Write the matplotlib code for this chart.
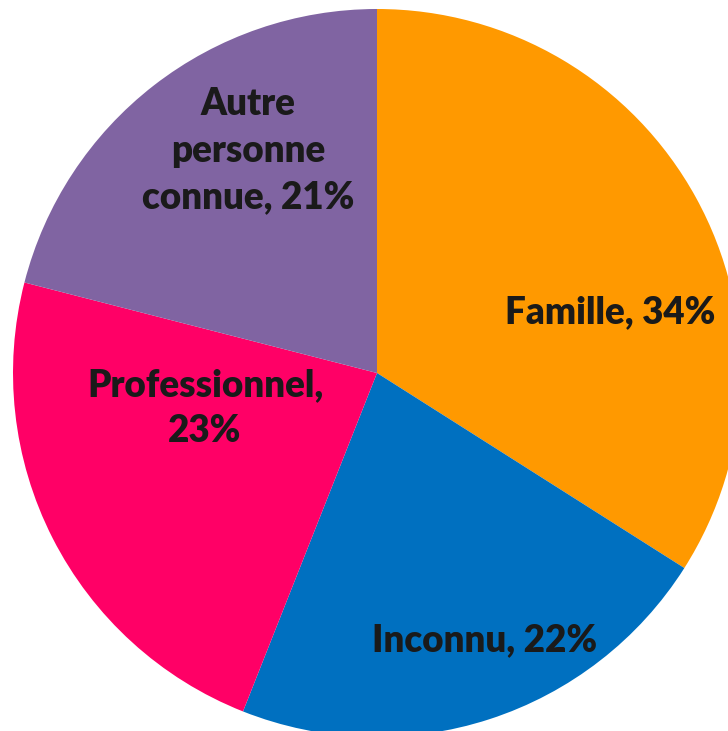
import matplotlib
matplotlib.use('Agg')
import matplotlib.pyplot as plt

# ── Data ──────────────────────────────────────────────────────────────────────
categories = ['Famille', 'Inconnu', 'Professionnel', 'Autre personne connue']
values     = [34, 22, 23, 21]
labels     = ['Famille, 34%', 'Inconnu, 22%', 'Professionnel,\n23%', 'Autre\npersonne\nconnue, 21%']
colors     = ['#FF9900', '#0070C0', '#FF0066', '#8064A2']

# label anchor points in pixel space (x from left, y from top)
label_pos  = [(610, 312), (485, 640), (205, 408), (248, 151)]

W, H = 728, 731
fig = plt.figure(figsize=(W / 100, H / 100), dpi=100)
ax = fig.add_axes([0, 0, 1, 1])

cx, cy, r = 377, 373, 364
ax.pie(values, colors=colors, startangle=90, counterclock=False,
       center=(cx, H - cy), radius=r, wedgeprops=dict(linewidth=0))

for lab, (x, y) in zip(labels, label_pos):
    ax.text(x, H - y, lab, ha='center', va='center', fontsize=26.5,
            fontweight='heavy', family='Lato', color='#1a1a1a', linespacing=1.45)

ax.set_xlim(0, W)
ax.set_ylim(0, H)
ax.set_aspect('auto')
ax.axis('off')

fig.savefig('out.png', dpi=100)
